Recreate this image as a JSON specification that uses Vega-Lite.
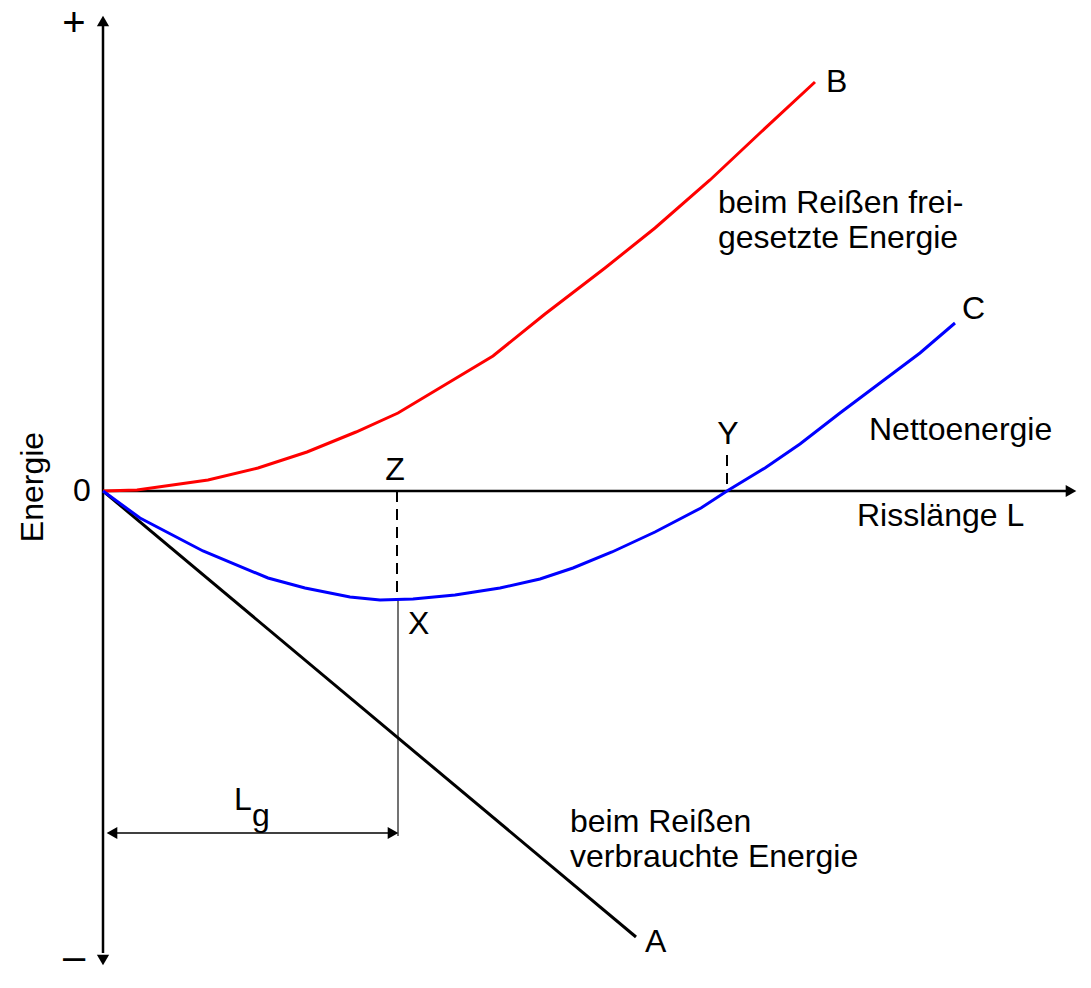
{
  "$schema": "https://vega.github.io/schema/vega-lite/v6.json",
  "width": 1091,
  "height": 988,
  "autosize": {"type": "fit", "contains": "padding"},
  "padding": 0,
  "background": "white",
  "config": {"view": {"stroke": null}, "text": {"font": "Liberation Sans"}},
  "datasets": {
    "curves": [
      {"series": "A", "order": 1, "x": 0, "y": 0},
      {"series": "A", "order": 2, "x": 533, "y": -446},
      {"series": "B", "order": 1, "x": 0, "y": 0},
      {"series": "B", "order": 2, "x": 34, "y": 1},
      {"series": "B", "order": 3, "x": 105, "y": 11},
      {"series": "B", "order": 4, "x": 155, "y": 23},
      {"series": "B", "order": 5, "x": 204, "y": 39},
      {"series": "B", "order": 6, "x": 253, "y": 59},
      {"series": "B", "order": 7, "x": 295, "y": 78},
      {"series": "B", "order": 8, "x": 340, "y": 105},
      {"series": "B", "order": 9, "x": 390, "y": 135},
      {"series": "B", "order": 10, "x": 442, "y": 177},
      {"series": "B", "order": 11, "x": 502, "y": 223},
      {"series": "B", "order": 12, "x": 552, "y": 263},
      {"series": "B", "order": 13, "x": 607, "y": 311},
      {"series": "B", "order": 14, "x": 657, "y": 358},
      {"series": "B", "order": 15, "x": 712, "y": 409},
      {"series": "C", "order": 1, "x": 0, "y": 0},
      {"series": "C", "order": 2, "x": 37, "y": -27},
      {"series": "C", "order": 3, "x": 100, "y": -60},
      {"series": "C", "order": 4, "x": 165, "y": -87},
      {"series": "C", "order": 5, "x": 202, "y": -97},
      {"series": "C", "order": 6, "x": 247, "y": -106},
      {"series": "C", "order": 7, "x": 277, "y": -109},
      {"series": "C", "order": 8, "x": 310, "y": -108},
      {"series": "C", "order": 9, "x": 352, "y": -104},
      {"series": "C", "order": 10, "x": 397, "y": -97},
      {"series": "C", "order": 11, "x": 437, "y": -88},
      {"series": "C", "order": 12, "x": 470, "y": -77},
      {"series": "C", "order": 13, "x": 509, "y": -61},
      {"series": "C", "order": 14, "x": 552, "y": -41},
      {"series": "C", "order": 15, "x": 598, "y": -17},
      {"series": "C", "order": 16, "x": 624, "y": 0},
      {"series": "C", "order": 17, "x": 662, "y": 23},
      {"series": "C", "order": 18, "x": 697, "y": 47},
      {"series": "C", "order": 19, "x": 737, "y": 78},
      {"series": "C", "order": 20, "x": 777, "y": 108},
      {"series": "C", "order": 21, "x": 817, "y": 138},
      {"series": "C", "order": 22, "x": 852, "y": 168}
    ],
    "guides": [
      {"id": "vaxis", "kind": "axis", "x": 0, "y": -462, "x2": 0, "y2": 466},
      {"id": "haxis", "kind": "axis", "x": 0, "y": 0, "x2": 964, "y2": 0},
      {"id": "Z", "kind": "dash", "x": 294, "y": 0, "x2": 294, "y2": -107},
      {"id": "Y", "kind": "dash", "x": 624, "y": 36, "x2": 624, "y2": 0},
      {"id": "X", "kind": "thin", "x": 295, "y": -109, "x2": 295, "y2": -345},
      {"id": "Lg", "kind": "dim", "x": 6, "y": -342, "x2": 290, "y2": -342}
    ],
    "arrows": [
      {"dir": "up", "x": 0, "y": 470},
      {"dir": "down", "x": 0, "y": -469},
      {"dir": "right", "x": 968, "y": 0},
      {"dir": "left", "x": 9, "y": -342},
      {"dir": "right", "x": 290, "y": -342}
    ],
    "labels": [
      {"kind": "left", "text": "B", "x": 723, "y": 409},
      {"kind": "left", "text": "beim Reißen frei-", "x": 615, "y": 288},
      {"kind": "left", "text": "gesetzte Energie", "x": 615, "y": 253},
      {"kind": "left", "text": "C", "x": 859, "y": 182},
      {"kind": "left", "text": "Nettoenergie", "x": 766, "y": 61},
      {"kind": "left", "text": "Risslänge L", "x": 754, "y": -25},
      {"kind": "left", "text": "X", "x": 305, "y": -133},
      {"kind": "left", "text": "L", "x": 131, "y": -309},
      {"kind": "left", "text": "g", "x": 149, "y": -325},
      {"kind": "left", "text": "beim Reißen", "x": 467, "y": -331},
      {"kind": "left", "text": "verbrauchte Energie", "x": 467, "y": -366},
      {"kind": "left", "text": "A", "x": 542, "y": -451},
      {"kind": "center", "text": "Z", "x": 292, "y": 21},
      {"kind": "center", "text": "Y", "x": 625, "y": 57},
      {"kind": "center", "text": "0", "x": -21, "y": 0},
      {"kind": "sign", "text": "+", "x": -29, "y": 467},
      {"kind": "sign", "text": "–", "x": -29, "y": -467},
      {"kind": "rot", "text": "Energie", "x": -70, "y": 4}
    ]
  },
  "encoding": {
    "x": {"field": "x", "type": "quantitative", "scale": {"domain": [-103, 988], "nice": false, "zero": false}, "axis": null},
    "y": {"field": "y", "type": "quantitative", "scale": {"domain": [-497, 491], "nice": false, "zero": false}, "axis": null}
  },
  "layer": [
    {
      "data": {"name": "guides"},
      "transform": [{"filter": "datum.kind === 'axis'"}],
      "mark": {"type": "rule", "color": "black", "strokeWidth": 2.5},
      "encoding": {"x2": {"field": "x2"}, "y2": {"field": "y2"}}
    },
    {
      "data": {"name": "guides"},
      "transform": [{"filter": "datum.kind === 'dash'"}],
      "mark": {"type": "rule", "color": "black", "strokeWidth": 2, "strokeDash": [11, 7]},
      "encoding": {"x2": {"field": "x2"}, "y2": {"field": "y2"}}
    },
    {
      "data": {"name": "guides"},
      "transform": [{"filter": "datum.kind === 'thin'"}],
      "mark": {"type": "rule", "color": "#444444", "strokeWidth": 1.5},
      "encoding": {"x2": {"field": "x2"}, "y2": {"field": "y2"}}
    },
    {
      "data": {"name": "guides"},
      "transform": [{"filter": "datum.kind === 'dim'"}],
      "mark": {"type": "rule", "color": "black", "strokeWidth": 1.5},
      "encoding": {"x2": {"field": "x2"}, "y2": {"field": "y2"}}
    },
    {
      "data": {"name": "arrows"},
      "transform": [{"filter": "datum.dir === 'up'"}],
      "mark": {"type": "point", "shape": "triangle-up", "filled": true, "color": "black", "opacity": 1, "size": 150}
    },
    {
      "data": {"name": "arrows"},
      "transform": [{"filter": "datum.dir === 'down'"}],
      "mark": {"type": "point", "shape": "triangle-down", "filled": true, "color": "black", "opacity": 1, "size": 150}
    },
    {
      "data": {"name": "arrows"},
      "transform": [{"filter": "datum.dir === 'right'"}],
      "mark": {"type": "point", "shape": "triangle-right", "filled": true, "color": "black", "opacity": 1, "size": 150}
    },
    {
      "data": {"name": "arrows"},
      "transform": [{"filter": "datum.dir === 'left'"}],
      "mark": {"type": "point", "shape": "triangle-left", "filled": true, "color": "black", "opacity": 1, "size": 150}
    },
    {
      "data": {"name": "curves"},
      "mark": {"type": "line", "strokeWidth": 3},
      "encoding": {
        "color": {"field": "series", "type": "nominal", "scale": {"domain": ["A", "B", "C"], "range": ["#000000", "#ff0000", "#0000ff"]}, "legend": null},
        "order": {"field": "order", "type": "quantitative"}
      }
    },
    {
      "data": {"name": "labels"},
      "transform": [{"filter": "datum.kind === 'left'"}],
      "mark": {"type": "text", "align": "left", "baseline": "middle", "fontSize": 32, "color": "black"},
      "encoding": {"text": {"field": "text"}}
    },
    {
      "data": {"name": "labels"},
      "transform": [{"filter": "datum.kind === 'center'"}],
      "mark": {"type": "text", "align": "center", "baseline": "middle", "fontSize": 32, "color": "black"},
      "encoding": {"text": {"field": "text"}}
    },
    {
      "data": {"name": "labels"},
      "transform": [{"filter": "datum.kind === 'sign'"}],
      "mark": {"type": "text", "align": "center", "baseline": "middle", "fontSize": 40, "color": "black"},
      "encoding": {"text": {"field": "text"}}
    },
    {
      "data": {"name": "labels"},
      "transform": [{"filter": "datum.kind === 'rot'"}],
      "mark": {"type": "text", "align": "center", "baseline": "middle", "fontSize": 32, "angle": 270, "color": "black"},
      "encoding": {"text": {"field": "text"}}
    }
  ]
}
